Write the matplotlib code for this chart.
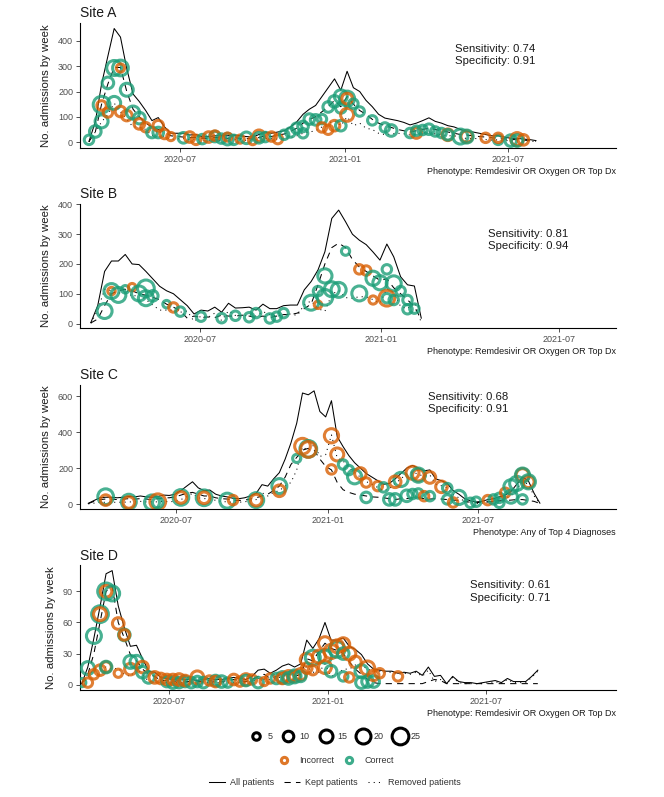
import numpy as np
import matplotlib
matplotlib.use('Agg')
import matplotlib.pyplot as plt
import matplotlib.dates as mdates
from matplotlib.lines import Line2D

plt.rcParams['font.family'] = ['Liberation Sans', 'DejaVu Sans']

INCORRECT = '#D95F02'
CORRECT = '#1B9E77'

# ---- Site A ----
a_start = '2020-03-22'
a_all = [3, 80, 230, 340, 449, 415, 290, 190, 160, 125,
         85, 97, 60, 35, 35, 35, 28, 30, 20, 22,
         25, 25, 25, 28, 25, 22, 20, 30, 40, 35,
         40, 45, 60, 80, 110, 130, 145, 180, 215, 250,
         205, 280, 215, 200, 165, 140, 110, 95, 90, 85,
         78, 68, 75, 85, 96, 82, 75, 65, 60, 50,
         42, 40, 35, 30, 25, 25, 20, 15, 15, 12,
         10, 6]
a_kept = [2, 40, 150, 230, 295, 295, 200, 130, 100, 75,
          60, 50, 40, 25, 22, 20, 18, 18, 15, 15,
          18, 18, 15, 18, 15, 15, 12, 18, 25, 22,
          28, 32, 42, 55, 75, 90, 100, 120, 140, 165,
          140, 180, 150, 125, 110, 90, 75, 65, 58, 50,
          45, 40, 45, 50, 55, 50, 45, 40, 35, 30,
          28, 25, 22, 20, 17, 16, 13, 10, 10, 8,
          6, 4]
a_removed = [1, 40, 80, 110, 154, 120, 90, 60, 60, 50,
             25, 47, 20, 10, 13, 15, 10, 12, 5, 7,
             7, 7, 10, 10, 10, 7, 8, 12, 15, 13,
             12, 13, 18, 25, 35, 40, 45, 60, 75, 85,
             65, 100, 65, 75, 55, 50, 35, 30, 32, 35,
             33, 28, 30, 35, 41, 32, 30, 25, 25, 20,
             14, 15, 13, 10, 8, 9, 7, 5, 5, 4,
             4, 2]
# (week index, admissions, reviewed n, correct?)
a_points = [(0, 9, 8, 1), (1, 42, 12, 1), (2, 148, 25, 1), (2, 145, 8, 0), (2, 82, 15, 1),
            (3, 234, 12, 1), (3, 117, 8, 0), (4, 293, 20, 1), (4, 155, 15, 1),
            (5, 293, 22, 1), (5, 293, 6, 0), (5, 121, 10, 0), (6, 207, 15, 1), (6, 105, 10, 0),
            (7, 117, 15, 1), (8, 95, 12, 1), (8, 72, 10, 0), (9, 59, 8, 0), (10, 38, 10, 1),
            (11, 38, 10, 1), (11, 65, 10, 0), (12, 32, 8, 0), (13, 22, 6, 0), (15, 17, 10, 1),
            (16, 20, 10, 0), (17, 9, 8, 0), (18, 12, 8, 1), (19, 20, 10, 0), (20, 22, 10, 1),
            (20, 26, 8, 0), (21, 14, 8, 1), (22, 12, 12, 1), (22, 20, 6, 0), (23, 9, 8, 1),
            (24, 12, 6, 0), (25, 17, 12, 1), (26, 6, 6, 0), (27, 25, 12, 0), (27, 17, 10, 1),
            (28, 20, 8, 1), (29, 22, 8, 0), (30, 12, 8, 0), (31, 29, 8, 1), (32, 38, 8, 1),
            (33, 55, 10, 1), (34, 35, 8, 1), (34, 62, 10, 1), (35, 91, 10, 1), (36, 88, 10, 1),
            (37, 91, 8, 1), (37, 58, 8, 0), (38, 49, 8, 0), (39, 65, 10, 0), (38, 139, 10, 1),
            (39, 161, 12, 1), (40, 181, 15, 1), (40, 65, 10, 1), (40, 135, 10, 1),
            (41, 172, 20, 1), (41, 172, 10, 0), (41, 108, 15, 0), (42, 152, 8, 1),
            (43, 121, 8, 1), (45, 86, 8, 1), (47, 58, 8, 1), (48, 46, 12, 1), (51, 36, 8, 1),
            (52, 36, 10, 0), (52, 45, 8, 1), (53, 48, 8, 1), (54, 51, 10, 1), (55, 42, 8, 1),
            (56, 36, 8, 1), (57, 29, 12, 0), (57, 29, 10, 1), (59, 22, 20, 1), (60, 22, 12, 0),
            (60, 22, 15, 1), (63, 17, 8, 0), (65, 9, 8, 1), (65, 17, 8, 0), (67, 6, 12, 1),
            (68, 12, 15, 0), (68, 6, 12, 1), (69, 9, 10, 0)]

# ---- Site B ----
b_start = '2020-03-12'
b_all = [3, 60, 175, 210, 210, 232, 200, 198, 175, 150,
         125, 110, 100, 80, 60, 32, 45, 42, 55, 38,
         68, 52, 53, 55, 45, 65, 50, 50, 60, 62,
         62, 113, 141, 180, 241, 353, 381, 342, 300, 280,
         265, 240, 213, 267, 224, 157, 130, 126, 18]
b_kept = [2, 15, 60, 100, 110, 115, 110, 100, 95, 88,
          80, 65, 55, 42, 18, 25, 20, 22, 20, 28,
          25, 25, 28, 25, 20, 25, 20, 25, 30, 30,
          35, 50, 65, 130, 200, 255, 270, 255, 215, 190,
          175, 160, 145, 150, 120, 100, 80, 55, 15]
b_removed = [1, 45, 115, 110, 100, 117, 90, 98, 80, 62,
             45, 45, 45, 38, 42, 7, 25, 20, 35, 10,
             43, 27, 25, 30, 25, 40, 30, 25, 30, 32,
             27, 63, 76, 50, 41, 98, 111, 87, 85, 90,
             90, 80, 68, 117, 104, 57, 50, 71, 3]
b_points = [(2, 42, 20, 1), (3, 109, 20, 1), (3, 109, 5, 0), (4, 96, 20, 1), (5, 115, 5, 1),
            (6, 122, 5, 0), (7, 101, 20, 1), (8, 118, 25, 1), (8, 85, 20, 1), (9, 93, 10, 1),
            (11, 65, 5, 1), (12, 54, 8, 0), (13, 40, 8, 1), (16, 23, 8, 1), (19, 18, 8, 1),
            (21, 26, 8, 1), (23, 21, 8, 1), (24, 35, 8, 1), (26, 17, 8, 1), (27, 23, 8, 1),
            (28, 35, 8, 1), (32, 70, 20, 1), (33, 63, 5, 0), (33, 109, 8, 1), (34, 160, 18, 1),
            (34, 88, 22, 1), (35, 115, 20, 1), (36, 113, 20, 1), (37, 243, 6, 1),
            (39, 101, 20, 1), (39, 182, 8, 0), (40, 178, 8, 0), (41, 152, 18, 1),
            (42, 137, 18, 1), (43, 182, 8, 1), (44, 135, 20, 1), (45, 109, 8, 1),
            (41, 79, 6, 0), (43, 85, 22, 0), (43, 85, 8, 1), (44, 79, 8, 1), (46, 79, 8, 1),
            (46, 48, 8, 1), (47, 50, 8, 1)]

# ---- Site C ----
c_start = '2020-03-17'
c_all = [4, 20, 35, 38, 38, 35, 38, 42, 40, 45,
         40, 38, 42, 50, 48, 55, 75, 100, 124, 90,
         75, 78, 55, 45, 40, 32, 30, 35, 45, 60,
         108, 100, 140, 175, 250, 340, 450, 618, 608, 630,
         515, 485, 575, 375, 320, 270, 230, 200, 170, 150,
         130, 110, 115, 140, 170, 200, 215, 200, 185, 190,
         140, 130, 115, 75, 55, 30, 18, 12, 15, 25,
         30, 40, 50, 70, 110, 150, 130, 60, 5]
c_kept = [3, 15, 25, 28, 28, 25, 28, 30, 28, 30,
          28, 25, 30, 35, 35, 40, 50, 60, 65, 55,
          45, 45, 35, 30, 28, 22, 20, 22, 28, 35,
          45, 55, 75, 100, 150, 220, 260, 300, 310, 300,
          250, 210, 190, 120, 80, 65, 55, 50, 45, 40,
          38, 35, 30, 25, 30, 30, 35, 35, 30, 28,
          30, 28, 25, 22, 20, 15, 10, 8, 10, 12,
          15, 18, 20, 22, 25, 25, 20, 15, 3]
c_removed = [1, 5, 10, 10, 10, 10, 10, 12, 12, 15,
             12, 13, 12, 15, 13, 15, 25, 40, 60, 35,
             30, 33, 20, 15, 12, 10, 10, 13, 17, 25,
             63, 45, 65, 75, 100, 120, 190, 318, 298, 330,
             265, 275, 385, 255, 240, 205, 175, 150, 125, 110,
             92, 75, 85, 115, 140, 170, 180, 165, 155, 162,
             110, 102, 90, 53, 35, 15, 8, 4, 5, 13,
             15, 22, 30, 48, 85, 125, 110, 45, 2]
c_points = [(3, 41, 22, 1), (3, 22, 10, 0), (7, 13, 20, 1), (7, 9, 12, 0), (11, 9, 20, 1),
            (12, 13, 22, 0), (12, 8, 10, 1), (16, 37, 22, 1), (16, 37, 12, 0), (20, 35, 22, 1),
            (20, 35, 12, 0), (24, 19, 20, 1), (25, 22, 8, 0), (29, 22, 20, 1), (29, 22, 12, 0),
            (33, 100, 20, 1), (33, 74, 12, 0), (36, 254, 6, 1), (37, 322, 22, 0),
            (38, 307, 25, 1), (38, 304, 22, 0), (42, 380, 18, 0), (42, 193, 8, 0),
            (43, 276, 15, 0), (44, 220, 8, 1), (45, 189, 8, 1), (46, 152, 18, 1),
            (47, 170, 12, 0), (48, 120, 8, 0), (50, 100, 8, 0), (51, 93, 8, 1), (48, 37, 10, 1),
            (52, 26, 12, 1), (53, 26, 12, 1), (54, 137, 18, 1), (53, 124, 12, 0),
            (56, 174, 15, 0), (57, 161, 12, 0), (57, 161, 18, 1), (59, 148, 12, 0),
            (55, 46, 12, 1), (56, 56, 8, 1), (57, 59, 8, 1), (58, 44, 8, 0), (59, 44, 8, 1),
            (61, 96, 12, 0), (62, 89, 8, 1), (62, 26, 8, 1), (63, 9, 8, 0), (64, 37, 18, 1),
            (66, 7, 8, 1), (67, 13, 8, 1), (69, 22, 8, 0), (70, 26, 8, 1), (71, 35, 8, 1),
            (71, 7, 8, 1), (72, 63, 8, 0), (73, 96, 18, 1), (74, 115, 18, 1), (73, 41, 15, 1),
            (75, 26, 8, 1), (75, 161, 15, 0), (75, 161, 18, 1), (76, 124, 12, 0),
            (76, 124, 18, 1)]

# ---- Site D ----
d_start = '2020-03-23'
d_all = [1, 17, 45, 75, 107, 110, 76, 55, 37, 38,
         25, 13, 12, 7, 6, 5, 6, 5, 5, 4,
         5, 6, 5, 5, 6, 7, 6, 5, 8, 14,
         15, 11, 14, 18, 20, 17, 20, 43, 35, 44,
         60, 43, 43, 45, 37, 34, 29, 20, 15, 14,
         13, 13, 11, 12, 11, 13, 9, 17, 8, 9,
         1, 8, 3, 2, 2, 1, 2, 3, 4, 2,
         6, 3, 3, 3, 8, 14]
d_kept = [1, 10, 30, 60, 90, 95, 60, 45, 29, 23,
          15, 10, 8, 4, 4, 3, 4, 3, 3, 3,
          3, 4, 3, 3, 4, 5, 4, 3, 5, 8,
          10, 6, 8, 10, 10, 8, 10, 25, 23, 32,
          40, 35, 33, 30, 22, 15, 10, 5, 2, 1,
          1, 1, 1, 1, 1, 1, 1, 3, 5, 4,
          1, 1, 1, 1, 1, 1, 1, 1, 1, 1,
          1, 1, 1, 1, 1, 1]
d_removed = [0, 7, 15, 15, 17, 15, 16, 10, 8, 15,
             10, 3, 4, 3, 2, 2, 2, 2, 2, 1,
             2, 2, 2, 2, 2, 2, 2, 2, 3, 6,
             5, 5, 6, 8, 10, 9, 10, 18, 12, 12,
             20, 8, 10, 15, 15, 19, 19, 15, 13, 13,
             12, 12, 10, 11, 10, 12, 8, 14, 3, 5,
             1, 7, 2, 1, 1, 1, 1, 2, 3, 1,
             5, 2, 2, 2, 7, 13]
d_points = [(0, 2, 6, 1), (1, 2, 8, 0), (1, 16, 15, 1), (2, 10, 8, 0), (2, 47, 20, 1),
            (3, 14, 10, 0), (3, 68, 25, 1), (3, 68, 15, 0), (4, 17, 10, 0), (4, 17, 12, 1),
            (4, 90, 25, 1), (4, 90, 12, 0), (5, 88, 20, 1), (6, 11, 6, 0), (6, 59, 12, 0),
            (7, 48, 12, 1), (7, 48, 10, 0), (8, 15, 12, 0), (8, 22, 15, 1), (9, 22, 15, 1),
            (10, 12, 12, 1), (10, 17, 12, 0), (11, 7, 12, 1), (12, 7, 12, 0), (13, 6, 10, 0),
            (14, 3, 10, 1), (14, 5, 10, 0), (15, 2, 12, 1), (15, 5, 10, 0), (16, 2, 10, 1),
            (16, 5, 12, 0), (17, 3, 10, 1), (17, 4, 10, 0), (18, 2, 10, 1), (19, 7, 15, 0),
            (19, 3, 10, 1), (20, 2, 10, 1), (21, 4, 8, 0), (22, 4, 10, 1), (22, 3, 10, 0),
            (23, 3, 12, 1), (24, 2, 8, 1), (25, 5, 10, 0), (26, 3, 8, 0), (27, 5, 12, 0),
            (27, 4, 10, 1), (28, 5, 8, 0), (29, 2, 10, 1), (30, 3, 6, 0), (31, 6, 8, 0),
            (32, 6, 10, 1), (33, 7, 12, 1), (33, 6, 10, 0), (34, 8, 12, 0), (34, 6, 12, 1),
            (35, 8, 10, 0), (35, 8, 15, 1), (36, 10, 12, 0), (36, 8, 10, 1), (37, 16, 10, 0),
            (37, 24, 15, 0), (38, 26, 20, 1), (38, 14, 8, 0), (39, 27, 15, 0), (40, 40, 15, 0),
            (40, 27, 15, 1), (40, 17, 15, 0), (41, 32, 18, 0), (41, 13, 12, 1), (42, 34, 22, 1),
            (42, 37, 15, 0), (43, 39, 15, 0), (43, 30, 12, 1), (43, 8, 8, 1), (44, 30, 15, 0),
            (44, 7, 8, 0), (45, 22, 12, 0), (46, 13, 15, 1), (46, 2, 12, 1), (47, 16, 18, 0),
            (47, 3, 12, 1), (48, 9, 10, 0), (48, 3, 12, 1), (49, 11, 8, 0), (52, 8, 8, 0)]

sites = [
    dict(name='Site A', start=a_start, all=a_all, kept=a_kept, removed=a_removed, pts=a_points,
         xlim=('2020-03-12', '2021-10-29'), ylim=(-22, 471), yticks=[0, 100, 200, 300, 400],
         stats='Sensitivity: 0.74\nSpecificity: 0.91', stat_pos=(0.70, 0.745),
         caption='Phenotype: Remdesivir OR Oxygen OR Top Dx', bottom=0.8147),
    dict(name='Site B', start=b_start, all=b_all, kept=b_kept, removed=b_removed, pts=b_points,
         xlim=('2020-03-01', '2021-08-28'), ylim=(-16, 403), yticks=[0, 100, 200, 300, 400],
         stats='Sensitivity: 0.81\nSpecificity: 0.94', stat_pos=(0.761, 0.706),
         caption='Phenotype: Remdesivir OR Oxygen OR Top Dx', bottom=0.5881),
    dict(name='Site C', start=c_start, all=c_all, kept=c_kept, removed=c_removed, pts=c_points,
         xlim=('2020-03-07', '2021-12-15'), ylim=(-29, 665), yticks=[0, 200, 400, 600],
         stats='Sensitivity: 0.68\nSpecificity: 0.91', stat_pos=(0.649, 0.85),
         caption='Phenotype: Any of Top 4 Diagnoses', bottom=0.3610),
    dict(name='Site D', start=d_start, all=d_all, kept=d_kept, removed=d_removed, pts=d_points,
         xlim=('2020-03-21', '2021-11-28'), ylim=(-5.1, 115.2), yticks=[0, 30, 60, 90],
         stats='Sensitivity: 0.61\nSpecificity: 0.71', stat_pos=(0.728, 0.79),
         caption='Phenotype: Remdesivir OR Oxygen OR Top Dx', bottom=0.1343),
]

LW = 0.75
SIZE_K = 5.8
RING = 2.2


def draw_site(ax, s):
    base = mdates.datestr2num(s['start'])
    x = base + 7 * np.arange(len(s['all']))
    ax.plot(x, s['all'], color='black', lw=LW, zorder=2)
    ax.plot(x, s['kept'], color='black', lw=LW, dashes=(6, 5), zorder=2)
    ax.plot(x, s['removed'], color='black', lw=LW, dashes=(1, 4), zorder=2)

    wk, val, n, ok = zip(*s['pts'])
    px = base + 7 * np.array(wk, dtype=float)
    cols = [CORRECT if c else INCORRECT for c in ok]
    ax.scatter(px, val, s=SIZE_K * np.array(n), facecolors='none', edgecolors=cols,
               linewidths=RING, alpha=0.8, zorder=3)

    ax.set_xlim(mdates.datestr2num(s['xlim'][0]), mdates.datestr2num(s['xlim'][1]))
    ax.set_ylim(*s['ylim'])
    ax.set_yticks(s['yticks'])
    ax.xaxis.set_major_locator(mdates.MonthLocator(bymonth=[1, 7]))
    ax.xaxis.set_major_formatter(mdates.DateFormatter('%Y-%m'))

    for side in ['top', 'right']:
        ax.spines[side].set_visible(False)
    for side in ['left', 'bottom']:
        ax.spines[side].set_linewidth(0.8)
        ax.spines[side].set_color('black')
    ax.tick_params(axis='both', labelsize=6.5, labelcolor='#4D4D4D', color='#333333',
                   length=3, width=0.6, pad=2)
    ax.set_ylabel('No. admissions by week', fontsize=8.2, color='#1A1A1A', labelpad=5)
    ax.set_title(s['name'], loc='left', fontsize=10, color='#1A1A1A', pad=4)
    ax.text(s['stat_pos'][0], s['stat_pos'][1], s['stats'], transform=ax.transAxes,
            ha='left', va='center', fontsize=8.2, color='#1A1A1A', linespacing=1.3)
    ax.annotate(s['caption'], xy=(1, 0), xycoords='axes fraction', xytext=(0, -17),
                textcoords='offset points', ha='right', va='center', fontsize=6.5,
                color='#1A1A1A')


fig = plt.figure(figsize=(6.64, 7.97), dpi=100)
for s in sites:
    ax = fig.add_axes([0.1205, s['bottom'], 0.8072, 0.1565])
    draw_site(ax, s)

# legends
size_vals = [5, 10, 15, 20, 25]
size_handles = [Line2D([], [], ls='', marker='o', ms=np.sqrt(SIZE_K * v), mfc='none',
                       mec='black', mew=RING) for v in size_vals]
fig.legend(size_handles, [str(v) for v in size_vals], ncol=5, loc='center',
           bbox_to_anchor=(0.505, 0.0753), frameon=False, fontsize=6.5, labelcolor='#333333',
           handletextpad=0.5, columnspacing=1.0, handlelength=1.5)

col_handles = [Line2D([], [], ls='', marker='o', ms=4.5, mfc='none', mec=c, mew=RING, alpha=0.85)
               for c in [INCORRECT, CORRECT]]
fig.legend(col_handles, ['Incorrect', 'Correct'], ncol=2, loc='center',
           bbox_to_anchor=(0.506, 0.0455), frameon=False, fontsize=6.5, labelcolor='#333333',
           handletextpad=1.0, columnspacing=1.0, handlelength=1.3)

line_handles = [Line2D([], [], color='black', lw=LW),
                Line2D([], [], color='black', lw=LW, dashes=(6, 5)),
                Line2D([], [], color='black', lw=LW, dashes=(1, 4))]
fig.legend(line_handles, ['All patients', 'Kept patients', 'Removed patients'], ncol=3,
           loc='center', bbox_to_anchor=(0.505, 0.018), frameon=False, fontsize=6.5,
           labelcolor='#333333', handletextpad=0.6, columnspacing=1.1, handlelength=1.7)

fig.savefig('out.png', dpi=100)
